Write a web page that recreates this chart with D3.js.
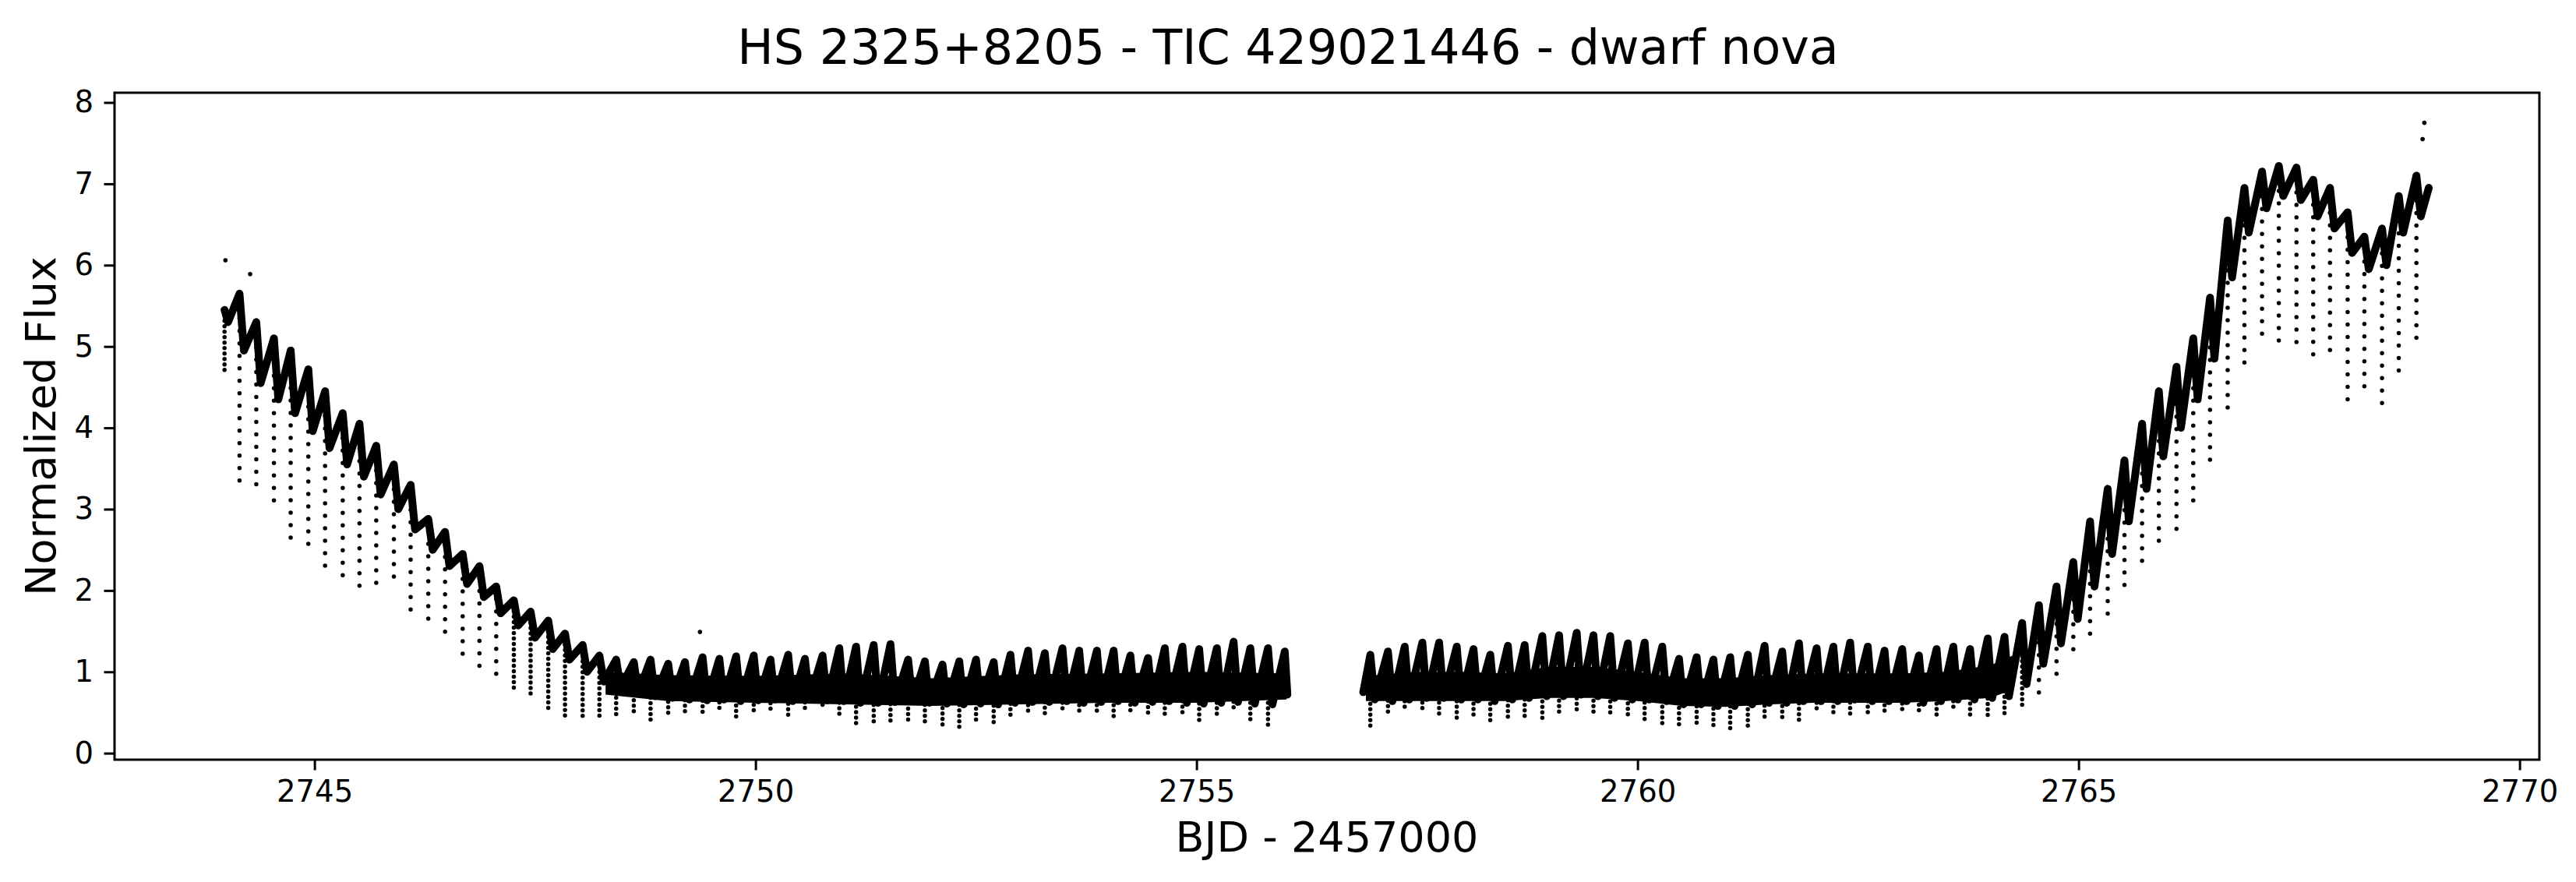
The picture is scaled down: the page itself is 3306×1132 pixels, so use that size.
<!DOCTYPE html>
<html>
<head>
<meta charset="utf-8">
<script src="https://cdn.jsdelivr.net/npm/d3@7"></script>
<style>
  body { margin: 0; background: #fff; }
  svg { display: block; }
  text { font-family: "DejaVu Sans", sans-serif; fill: #000; }
</style>
</head>
<body>
<svg id="chart" width="3306" height="1132"></svg>
<script>
// Light curve, one entry per orbit (eclipse)
// eclipse times, BJD - 2457000
const eclTime = [
  2743.98, 2744.15, 2744.34, 2744.54, 2744.73, 2744.93, 2745.12, 2745.32, 2745.51, 2745.70,
  2745.90, 2746.09, 2746.29, 2746.48, 2746.68, 2746.87, 2747.06, 2747.26, 2747.45, 2747.65,
  2747.84, 2748.04, 2748.23, 2748.42, 2748.62, 2748.81, 2749.01, 2749.20, 2749.40, 2749.59,
  2749.78, 2749.98, 2750.17, 2750.37, 2750.56, 2750.76, 2750.95, 2751.14, 2751.34, 2751.53,
  2751.73, 2751.92, 2752.12, 2752.31, 2752.50, 2752.70, 2752.89, 2753.09, 2753.28, 2753.48,
  2753.67, 2753.87, 2754.06, 2754.25, 2754.45, 2754.64, 2754.84, 2755.03, 2755.23, 2755.42,
  2755.61, 2755.81, 2756.00,
  2756.97, 2757.17, 2757.36, 2757.56, 2757.75, 2757.95, 2758.14, 2758.33, 2758.53, 2758.72,
  2758.92, 2759.11, 2759.31, 2759.50, 2759.69, 2759.89, 2760.08, 2760.28, 2760.47, 2760.67,
  2760.86, 2761.05, 2761.25, 2761.44, 2761.64, 2761.83, 2762.03, 2762.22, 2762.41, 2762.61,
  2762.80, 2763.00, 2763.19, 2763.39, 2763.58, 2763.77, 2763.97, 2764.16, 2764.36, 2764.55,
  2764.75, 2764.94, 2765.13, 2765.33, 2765.52, 2765.72, 2765.91, 2766.11, 2766.30, 2766.49,
  2766.69, 2766.88, 2767.08, 2767.27, 2767.47, 2767.66, 2767.85, 2768.05, 2768.24, 2768.44,
  2768.63, 2768.83
];
// flux at the orbital hump, just before each eclipse
const humpFlux = [
  5.45, 5.65, 5.30, 5.10, 4.95, 4.72, 4.45, 4.18, 4.05, 3.78,
  3.55, 3.30, 2.88, 2.72, 2.45, 2.30, 2.05, 1.88, 1.74, 1.63,
  1.47, 1.33, 1.20, 1.15, 1.12, 1.15, 1.10, 1.12, 1.18, 1.16,
  1.19, 1.20, 1.15, 1.21, 1.16, 1.20, 1.29, 1.31, 1.33, 1.34,
  1.15, 1.13, 1.09, 1.13, 1.15, 1.12, 1.21, 1.26, 1.23, 1.29,
  1.26, 1.26, 1.26, 1.20, 1.17, 1.29, 1.31, 1.28, 1.29, 1.37,
  1.29, 1.29, 1.25,
  1.21, 1.25, 1.31, 1.36, 1.36, 1.31, 1.28, 1.21, 1.32, 1.33,
  1.44, 1.45, 1.48, 1.45, 1.44, 1.35, 1.36, 1.31, 1.16, 1.18,
  1.15, 1.18, 1.21, 1.32, 1.25, 1.35, 1.29, 1.31, 1.36, 1.31,
  1.26, 1.28, 1.20, 1.28, 1.31, 1.28, 1.41, 1.43, 1.60, 1.82,
  2.05, 2.35, 2.85, 3.25, 3.60, 4.05, 4.45, 4.75, 5.10, 5.60,
  6.55, 6.95, 7.15, 7.22, 7.20, 7.05, 6.95, 6.65, 6.35, 6.45,
  6.85, 7.10
];
// deepest point of each eclipse
const eclFlux = [
  4.66, 3.35, 3.22, 3.05, 2.62, 2.50, 2.27, 2.15, 1.97, 2.06,
  2.10, 1.70, 1.60, 1.43, 1.20, 1.07, 0.90, 0.79, 0.68, 0.55,
  0.42, 0.44, 0.42, 0.47, 0.50, 0.40, 0.45, 0.48, 0.46, 0.54,
  0.45, 0.51, 0.51, 0.45, 0.50, 0.57, 0.45, 0.37, 0.37, 0.38,
  0.37, 0.37, 0.35, 0.30, 0.35, 0.32, 0.43, 0.46, 0.46, 0.53,
  0.51, 0.48, 0.45, 0.51, 0.46, 0.48, 0.45, 0.40, 0.46, 0.51,
  0.37, 0.33, 0.70,
  0.32, 0.45, 0.54, 0.54, 0.46, 0.43, 0.45, 0.37, 0.43, 0.45,
  0.43, 0.48, 0.51, 0.51, 0.48, 0.45, 0.37, 0.37, 0.33, 0.32,
  0.33, 0.30, 0.29, 0.43, 0.41, 0.41, 0.51, 0.45, 0.48, 0.48,
  0.46, 0.48, 0.48, 0.46, 0.53, 0.43, 0.46, 0.45, 0.55, 0.70,
  0.91, 1.24, 1.43, 1.70, 1.98, 2.28, 2.58, 2.69, 2.97, 3.52,
  4.15, 4.67, 5.01, 4.95, 4.92, 4.79, 4.81, 4.35, 4.36, 4.26,
  4.70, 4.98
];
// level the light curve falls back to right after each eclipse
const postTime = [
  2744.02, 2744.20, 2744.39, 2744.59, 2744.78, 2744.98, 2745.17, 2745.37, 2745.56, 2745.75,
  2745.95, 2746.14, 2746.34, 2746.53, 2746.73, 2746.92, 2747.11, 2747.31, 2747.50, 2747.70,
  2747.89, 2748.09, 2748.28, 2748.47, 2748.67, 2748.86, 2749.06, 2749.25, 2749.45, 2749.64,
  2749.83, 2750.03, 2750.22, 2750.42, 2750.61, 2750.81, 2751.00, 2751.19, 2751.39, 2751.58,
  2751.78, 2751.97, 2752.17, 2752.36, 2752.55, 2752.75, 2752.94, 2753.14, 2753.33, 2753.53,
  2753.72, 2753.92, 2754.11, 2754.30, 2754.50, 2754.69, 2754.89, 2755.08, 2755.28, 2755.47,
  2755.66, 2755.86, 2756.03,
  2757.02, 2757.22, 2757.41, 2757.61, 2757.80, 2758.00, 2758.19, 2758.38, 2758.58, 2758.77,
  2758.97, 2759.16, 2759.36, 2759.55, 2759.74, 2759.94, 2760.13, 2760.33, 2760.52, 2760.72,
  2760.91, 2761.10, 2761.30, 2761.49, 2761.69, 2761.88, 2762.08, 2762.27, 2762.46, 2762.66,
  2762.85, 2763.05, 2763.24, 2763.44, 2763.63, 2763.82, 2764.02, 2764.21, 2764.41, 2764.60,
  2764.80, 2764.99, 2765.18, 2765.38, 2765.57, 2765.77, 2765.96, 2766.16, 2766.35, 2766.54,
  2766.74, 2766.93, 2767.13, 2767.32, 2767.52, 2767.71, 2767.90, 2768.10, 2768.29, 2768.49,
  2768.68, 2768.88
];
const postFlux = [
  5.30, 4.95, 4.55, 4.35, 4.18, 3.96, 3.75, 3.55, 3.40, 3.18,
  3.00, 2.75, 2.50, 2.30, 2.08, 1.92, 1.72, 1.57, 1.42, 1.28,
  1.15, 1.00, 0.88, 0.80, 0.74, 0.70, 0.68, 0.66, 0.65, 0.66,
  0.64, 0.65, 0.66, 0.64, 0.66, 0.65, 0.64, 0.62, 0.62, 0.63,
  0.64, 0.62, 0.61, 0.60, 0.61, 0.60, 0.62, 0.63, 0.63, 0.64,
  0.62, 0.63, 0.64, 0.62, 0.63, 0.64, 0.62, 0.61, 0.62, 0.63,
  0.61, 0.60, 0.72,
  0.66, 0.64, 0.66, 0.68, 0.68, 0.66, 0.66, 0.64, 0.66, 0.68,
  0.70, 0.70, 0.72, 0.70, 0.68, 0.66, 0.66, 0.64, 0.60, 0.60,
  0.58, 0.58, 0.60, 0.62, 0.62, 0.64, 0.64, 0.64, 0.66, 0.64,
  0.64, 0.64, 0.62, 0.64, 0.66, 0.66, 0.68, 0.70, 0.85, 1.10,
  1.35, 1.65, 2.05, 2.45, 2.85, 3.25, 3.65, 4.00, 4.35, 4.85,
  5.85, 6.40, 6.70, 6.85, 6.80, 6.60, 6.45, 6.15, 5.95, 6.00,
  6.40, 6.60
];
// first point after the data gap and last point of the sector
const edgeTime = [2756.89, 2768.97];
const edgeFlux = [0.75, 6.95];

// dense flickering core of the quiescent light curve
const coreTime = [2748.30, 2749.00, 2750.00, 2751.00, 2752.00, 2753.00, 2754.00, 2755.00, 2756.02,
                  2756.92, 2757.50, 2758.00, 2758.50, 2759.00, 2759.50, 2760.00, 2760.50, 2761.00,
                  2761.50, 2762.00, 2762.50, 2763.00, 2763.50, 2764.00, 2764.25];
const coreLo = [0.72, 0.64, 0.62, 0.60, 0.58, 0.60, 0.62, 0.62, 0.66,
                0.64, 0.64, 0.64, 0.64, 0.68, 0.68, 0.64, 0.58, 0.57,
                0.60, 0.62, 0.62, 0.62, 0.64, 0.68, 0.78];
const coreHi = [1.00, 0.96, 0.95, 0.98, 0.92, 0.97, 0.98, 1.00, 0.98,
                0.95, 1.00, 1.00, 0.98, 1.06, 1.06, 1.00, 0.92, 0.92,
                0.96, 0.98, 0.98, 0.98, 1.00, 1.08, 1.20];

// isolated points
const strayTime = [2743.99, 2744.27, 2749.37, 2768.90, 2768.92];
const strayFlux = [6.06, 5.89, 1.49, 7.55, 7.75];

const gapTime = 2756.5;
const xTicks = [2745, 2750, 2755, 2760, 2765, 2770];
const yTicks = [0, 1, 2, 3, 4, 5, 6, 7, 8];

const margin = { left: 147, right: 47, top: 119, bottom: 157 };
const W = 3306, H = 1132;

const svg = d3.select('#chart');

const x = d3.scaleLinear()
  .domain([2742.733, 2770.224])
  .range([margin.left, W - margin.right]);
const y = d3.scaleLinear()
  .domain([-0.08, 8.12])
  .range([H - margin.bottom, margin.top]);

// build the light curve vertices
const verts = [];
eclTime.forEach((t, i) => {
  verts.push({ t: t, f: humpFlux[i] });
  verts.push({ t: postTime[i], f: postFlux[i] });
});
edgeTime.forEach((t, i) => verts.push({ t: t, f: edgeFlux[i] }));
verts.sort((a, b) => a.t - b.t);
const segments = [verts.filter(d => d.t < gapTime), verts.filter(d => d.t > gapTime)];

const core = coreTime.map((t, i) => ({ t: t, lo: coreLo[i], hi: coreHi[i] }));
const coreSegs = [core.filter(d => d.t < gapTime), core.filter(d => d.t > gapTime)];

const plot = svg.append('g');

// core band
plot.selectAll('path.core')
  .data(coreSegs)
  .enter()
  .append('path')
  .attr('class', 'core')
  .attr('fill', '#000')
  .attr('d', d3.area()
    .x(d => x(d.t))
    .y0(d => y(d.lo))
    .y1(d => y(d.hi)));

// orbital humps
plot.selectAll('path.lc')
  .data(segments)
  .enter()
  .append('path')
  .attr('class', 'lc')
  .attr('fill', 'none')
  .attr('stroke', '#000')
  .attr('stroke-width', 10)
  .attr('stroke-linejoin', 'round')
  .attr('stroke-linecap', 'round')
  .attr('d', d3.line().x(d => x(d.t)).y(d => y(d.f)));

// eclipses, drawn as columns of dots (sparser where the eclipse is deep)
plot.selectAll('line.ecl')
  .data(eclTime)
  .enter()
  .append('line')
  .attr('class', 'ecl')
  .attr('x1', d => x(d))
  .attr('x2', d => x(d))
  .attr('y1', (d, i) => y(humpFlux[i]))
  .attr('y2', (d, i) => y(eclFlux[i]))
  .attr('stroke', '#000')
  .attr('stroke-width', 5.5)
  .attr('stroke-linecap', 'round')
  .attr('stroke-dasharray', (d, i) => humpFlux[i] - eclFlux[i] < 1.1 ? '0 7' : '0 16');

plot.selectAll('circle.stray')
  .data(strayTime)
  .enter()
  .append('circle')
  .attr('class', 'stray')
  .attr('cx', d => x(d))
  .attr('cy', (d, i) => y(strayFlux[i]))
  .attr('r', 2.8)
  .attr('fill', '#000');

// axes
const xAxis = svg.append('g')
  .attr('transform', `translate(0,${H - margin.bottom})`)
  .call(d3.axisBottom(x).tickValues(xTicks).tickFormat(d3.format('d'))
    .tickSize(13.5).tickSizeOuter(0).tickPadding(13.5));
const yAxis = svg.append('g')
  .attr('transform', `translate(${margin.left},0)`)
  .call(d3.axisLeft(y).tickValues(yTicks).tickFormat(d3.format('d'))
    .tickSize(13.5).tickSizeOuter(0).tickPadding(13.5));

[xAxis, yAxis].forEach(g => {
  g.select('.domain').remove();
  g.selectAll('.tick line').attr('stroke', '#000').attr('stroke-width', 3);
  g.selectAll('.tick text')
    .attr('font-family', '"DejaVu Sans", sans-serif')
    .attr('font-size', 38.6)
    .attr('fill', '#000');
});

// frame
svg.append('rect')
  .attr('x', margin.left)
  .attr('y', margin.top)
  .attr('width', W - margin.left - margin.right)
  .attr('height', H - margin.top - margin.bottom)
  .attr('fill', 'none')
  .attr('stroke', '#000')
  .attr('stroke-width', 3);

// titles
svg.append('text')
  .attr('x', W / 2)
  .attr('y', 81.7)
  .attr('text-anchor', 'middle')
  .attr('font-size', 61.8)
  .text('HS 2325+8205 - TIC 429021446 - dwarf nova');

svg.append('text')
  .attr('x', (margin.left + W - margin.right) / 2)
  .attr('y', 1093)
  .attr('text-anchor', 'middle')
  .attr('font-size', 54)
  .text('BJD - 2457000');

svg.append('text')
  .attr('transform', `translate(70.7,${(margin.top + H - margin.bottom) / 2}) rotate(-90)`)
  .attr('text-anchor', 'middle')
  .attr('font-size', 54)
  .text('Normalized Flux');
</script>
</body>
</html>
